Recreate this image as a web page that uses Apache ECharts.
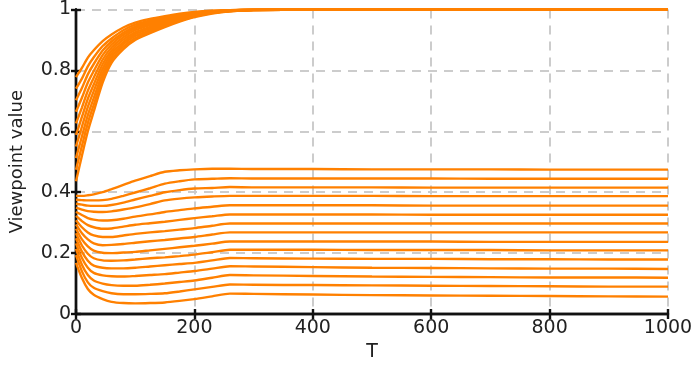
<!DOCTYPE html>
<html>
<head>
<meta charset="utf-8">
<script src="https://cdn.jsdelivr.net/npm/echarts@6/dist/echarts.min.js"></script>
<style>
html,body{margin:0;padding:0;background:#fff;}
#chart{width:699px;height:367px;}
</style>
</head>
<body>
<div id="chart"></div>
<script>
// Time points (T) at which values were read
const timePoints = [0,10,20,30,45,60,80,100,125,150,175,200,230,260,300,400,500,600,700,800,900,1000];
const xTicks = [0,200,400,600,800,1000];
const yTicks = [0,0.2,0.4,0.6,0.8,1];

// Upper group (converging to 1)
const upperLines = [
 [0.436,0.520,0.600,0.665,0.760,0.825,0.870,0.900,0.922,0.942,0.960,0.975,0.987,0.994,0.998,1,1,1,1,1,1,1],
 [0.474,0.552,0.627,0.687,0.775,0.835,0.878,0.906,0.927,0.946,0.963,0.977,0.988,0.994,0.998,1,1,1,1,1,1,1],
 [0.512,0.583,0.653,0.709,0.790,0.845,0.886,0.913,0.932,0.950,0.966,0.979,0.989,0.995,0.998,1,1,1,1,1,1,1],
 [0.550,0.615,0.680,0.732,0.805,0.855,0.893,0.919,0.938,0.954,0.969,0.981,0.990,0.995,0.998,1,1,1,1,1,1,1],
 [0.588,0.647,0.707,0.754,0.820,0.865,0.901,0.925,0.943,0.958,0.972,0.983,0.991,0.996,0.998,1,1,1,1,1,1,1],
 [0.626,0.678,0.733,0.776,0.835,0.875,0.909,0.932,0.949,0.962,0.974,0.984,0.992,0.996,0.999,1,1,1,1,1,1,1],
 [0.664,0.710,0.760,0.798,0.850,0.885,0.917,0.938,0.954,0.966,0.977,0.986,0.993,0.997,0.999,1,1,1,1,1,1,1],
 [0.702,0.742,0.787,0.821,0.865,0.895,0.924,0.944,0.959,0.970,0.980,0.988,0.994,0.997,0.999,1,1,1,1,1,1,1],
 [0.740,0.773,0.813,0.843,0.880,0.905,0.932,0.950,0.964,0.974,0.983,0.990,0.995,0.998,0.999,1,1,1,1,1,1,1],
 [0.778,0.808,0.842,0.866,0.896,0.918,0.941,0.957,0.969,0.978,0.986,0.992,0.996,0.998,0.999,1,1,1,1,1,1,1]
];

// Lower group (settling between 0.05 and 0.48)
const lowerLines = [
 [0.388,0.388,0.390,0.393,0.400,0.410,0.424,0.438,0.453,0.467,0.472,0.475,0.477,0.477,0.476,0.476,0.475,0.475,0.475,0.474,0.474,0.474],
 [0.375,0.374,0.373,0.373,0.374,0.378,0.388,0.399,0.413,0.428,0.436,0.442,0.444,0.446,0.445,0.445,0.445,0.445,0.444,0.444,0.444,0.444],
 [0.362,0.359,0.356,0.355,0.355,0.358,0.366,0.376,0.388,0.400,0.407,0.412,0.414,0.417,0.416,0.416,0.416,0.415,0.415,0.415,0.415,0.415],
 [0.349,0.343,0.338,0.336,0.335,0.337,0.343,0.350,0.361,0.373,0.379,0.383,0.386,0.388,0.388,0.388,0.388,0.387,0.387,0.387,0.387,0.387],
 [0.336,0.325,0.315,0.310,0.307,0.308,0.313,0.320,0.327,0.335,0.341,0.347,0.352,0.357,0.357,0.357,0.357,0.356,0.356,0.356,0.356,0.356],
 [0.322,0.305,0.292,0.285,0.280,0.281,0.287,0.293,0.298,0.303,0.309,0.315,0.321,0.327,0.327,0.327,0.327,0.326,0.326,0.326,0.326,0.326],
 [0.308,0.285,0.268,0.258,0.253,0.253,0.258,0.263,0.268,0.272,0.277,0.282,0.290,0.297,0.297,0.297,0.297,0.297,0.297,0.297,0.297,0.297],
 [0.294,0.265,0.245,0.232,0.226,0.227,0.230,0.234,0.239,0.243,0.248,0.253,0.261,0.268,0.268,0.268,0.268,0.268,0.268,0.268,0.268,0.268],
 [0.280,0.245,0.222,0.208,0.201,0.200,0.202,0.204,0.209,0.214,0.219,0.224,0.231,0.238,0.238,0.238,0.238,0.238,0.237,0.237,0.237,0.237],
 [0.265,0.225,0.198,0.183,0.176,0.175,0.176,0.179,0.183,0.186,0.190,0.195,0.203,0.211,0.211,0.211,0.210,0.210,0.210,0.209,0.209,0.209],
 [0.249,0.205,0.175,0.159,0.152,0.150,0.150,0.152,0.156,0.160,0.164,0.168,0.176,0.184,0.183,0.182,0.181,0.181,0.180,0.180,0.179,0.179],
 [0.232,0.184,0.152,0.135,0.127,0.124,0.123,0.125,0.128,0.131,0.136,0.141,0.149,0.157,0.156,0.154,0.152,0.151,0.150,0.149,0.149,0.148],
 [0.214,0.162,0.128,0.110,0.100,0.095,0.093,0.093,0.096,0.100,0.105,0.110,0.119,0.128,0.127,0.125,0.123,0.122,0.121,0.120,0.120,0.119],
 [0.193,0.140,0.104,0.086,0.075,0.068,0.065,0.065,0.066,0.068,0.074,0.081,0.089,0.097,0.096,0.095,0.094,0.093,0.092,0.091,0.090,0.090],
 [0.168,0.118,0.082,0.063,0.049,0.040,0.036,0.035,0.036,0.038,0.043,0.049,0.058,0.067,0.066,0.064,0.062,0.061,0.060,0.059,0.058,0.057]
];

const lineColor = '#FF8000';
const font = 'DejaVu Sans, Liberation Sans, Arial, sans-serif';
const textColor = '#222222';

function toSeries(vals) {
  return {
    type: 'line',
    data: timePoints.map((t, i) => [t, vals[i]]),
    showSymbol: false,
    symbol: 'none',
    smooth: 0.25,
    clip: false,
    lineStyle: { color: lineColor, width: 2.4 },
    itemStyle: { color: lineColor },
    z: 5
  };
}

const series = upperLines.concat(lowerLines).map(toSeries);

const chart = echarts.init(document.getElementById('chart'), null, { renderer: 'canvas' });
const axisLineStyle = { color: '#111111', width: 2.4 };
const gridStyle = { color: '#cccccc', width: 2, type: [9, 7] };
chart.setOption({
  animation: false,
  backgroundColor: '#fff',
  grid: { left: 72, right: 31, top: 8, bottom: 51, containLabel: false },
  xAxis: [{
    type: 'value', min: xTicks[0], max: xTicks[xTicks.length - 1], interval: 200,
    name: 'T', nameLocation: 'middle', nameGap: 29,
    nameTextStyle: { fontFamily: font, fontSize: 19, color: textColor },
    axisLine: { show: true, lineStyle: axisLineStyle },
    axisTick: { show: true, length: 5, inside: false, lineStyle: axisLineStyle },
    axisLabel: { fontFamily: font, fontSize: 19, color: textColor, margin: 5,
      formatter: v => String(v) },
    splitLine: { show: true, lineStyle: gridStyle }
  }, {
    type: 'value', position: 'top', min: 0, max: 1000, interval: 200,
    axisLine: { show: true, lineStyle: axisLineStyle },
    axisTick: { show: true, length: 5, inside: false, lineStyle: axisLineStyle },
    axisLabel: { show: false }, splitLine: { show: false }
  }],
  yAxis: [{
    type: 'value', min: yTicks[0], max: yTicks[yTicks.length - 1], interval: 0.2,
    name: 'Viewpoint value', nameLocation: 'middle', nameGap: 50,
    nameTextStyle: { fontFamily: font, fontSize: 18, color: textColor },
    axisLine: { show: true, lineStyle: axisLineStyle },
    axisTick: { show: true, length: 5, inside: false, lineStyle: axisLineStyle },
    axisLabel: { fontFamily: font, fontSize: 19, color: textColor, margin: 5,
      formatter: v => String(Math.round(v * 10) / 10) },
    splitLine: { show: true, lineStyle: gridStyle }
  }, {
    type: 'value', position: 'right', min: 0, max: 1, interval: 0.2,
    axisLine: { show: true, lineStyle: axisLineStyle },
    axisTick: { show: true, length: 5, inside: false, lineStyle: axisLineStyle },
    axisLabel: { show: false }, splitLine: { show: false }
  }],
  series: series
});
</script>
</body>
</html>
